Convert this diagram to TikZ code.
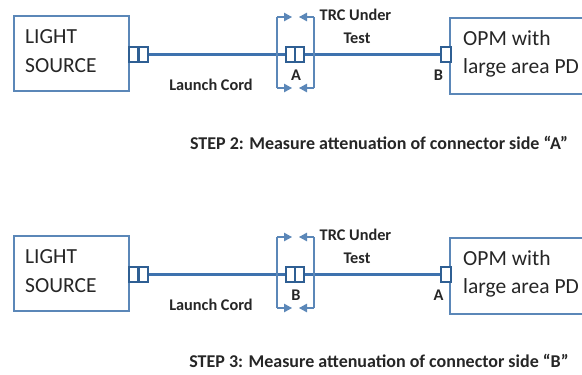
\documentclass[tikz,border=0pt]{standalone}
\usepackage{fontspec}
\setmainfont{Carlito}
\usetikzlibrary{arrows.meta}
\definecolor{boxblue}{HTML}{5B87B8}
\definecolor{plugblue}{HTML}{2F5F93}
\definecolor{cordblue}{HTML}{3E72AE}
\definecolor{inkgray}{HTML}{262626}
\tikzset{
BOX/.style={draw=boxblue,line width=2.2pt,fill=white,inner sep=0pt},
PLUG/.style={draw=plugblue,line width=2.4pt,fill=white,inner sep=0pt,minimum height=14.5pt},
CORD/.style={draw=cordblue,line width=2.8pt},
BRACKET/.style={draw=boxblue,line width=1.1pt},
BRACKETARROW/.style={BRACKET,-{Triangle[length=8pt,width=8.5pt]}},
BIGTEXT/.style={text=inkgray,font=\fontsize{21.5}{21.5}\selectfont,inner sep=0pt},
SMALLTEXT/.style={text=inkgray,font=\fontsize{16.3}{16.3}\selectfont\bfseries,inner sep=0pt},
STEPTEXT/.style={text=inkgray,font=\fontsize{18}{18}\selectfont\bfseries,inner sep=0pt},
}
\begin{document}
\begin{tikzpicture}[x=1pt,y=-1pt]
	\clip (0,0) rectangle (582,375);
	\foreach \row/\dy/\near/\far in {top/0/A/B, low/220/B/A} {
		\begin{scope}[yshift=-\dy pt]
			\node[BOX,minimum width=115pt,minimum height=75pt] (light\row) at (71.5,53.5) {};
			\node[BOX,minimum width=140pt,minimum height=76pt] (opm\row) at (520,56) {};
			\node[PLUG,minimum width=19pt] (plugS\row) at (138.5,54.5) {};
			\node[PLUG,minimum width=18pt] (plugM\row) at (295,54.5) {};
			\node[PLUG,minimum width=10pt] (plugE\row) at (446,54.5) {};
			\draw[draw=plugblue,line width=2.4pt] (plugS\row.north) -- (plugS\row.south);
			\draw[draw=plugblue,line width=2.4pt] (plugM\row.north) -- (plugM\row.south);
			\draw[CORD] (plugS\row.east) -- (plugM\row.west);
			\draw[CORD] (plugM\row.east) -- (plugE\row.west);
			% brackets round the connector
			\coordinate (bla\row) at (277,17);
			\coordinate (blb\row) at (277,88);
			\coordinate (bra\row) at (314,17);
			\coordinate (brb\row) at (314,88);
			\coordinate (tla\row) at (292,17);
			\coordinate (tlb\row) at (292,88);
			\coordinate (tra\row) at (299,17);
			\coordinate (trb\row) at (299,88);
			\draw[BRACKET] (bla\row) -- (blb\row);
			\draw[BRACKET] (bra\row) -- (brb\row);
			\draw[BRACKETARROW] (bla\row) -- (tla\row);
			\draw[BRACKETARROW] (blb\row) -- (tlb\row);
			\draw[BRACKETARROW] (bra\row) -- (tra\row);
			\draw[BRACKETARROW] (brb\row) -- (trb\row);
			% labels
			\node[BIGTEXT,anchor=west] (lighta\row) at (25,36.5) {LIGHT};
			\node[BIGTEXT,anchor=west] (lightb\row) at (25,66) {SOURCE};
			\node[BIGTEXT,anchor=west] (opma\row) at (463,38) {OPM with};
			\node[BIGTEXT,anchor=west] (opmb\row) at (463,68) {large area PD};
			\node[SMALLTEXT] (trca\row) at (355.5,15) {TRC Under};
			\node[SMALLTEXT] (trcb\row) at (357,38) {Test};
			\node[SMALLTEXT] (cord\row) at (211,85) {Launch Cord};
			\node[SMALLTEXT] (near\row) at (296,75) {\near};
			\node[SMALLTEXT] (far\row) at (438.5,75) {\far};
		\end{scope}
	}
	\node[STEPTEXT] (steptwo) at (379,143) {STEP 2: Measure attenuation of connector side “A”};
	\node[STEPTEXT] (stepthree) at (379,361) {STEP 3: Measure attenuation of connector side “B”};
\end{tikzpicture}
\end{document}
